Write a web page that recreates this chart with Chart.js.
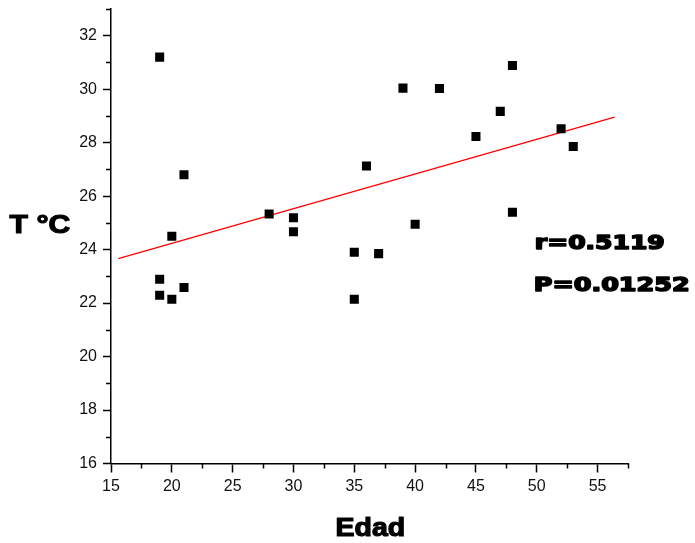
<!DOCTYPE html>
<html>
<head>
<meta charset="utf-8">
<script src="https://cdn.jsdelivr.net/npm/chart.js@4.4.0/dist/chart.umd.min.js"></script>
<style>
  html, body { margin: 0; padding: 0; background: #fff; }
  #wrap { width: 695px; height: 543px; }
</style>
</head>
<body>
<div id="wrap"><canvas id="myChart" width="695" height="543"></canvas></div>
<script>
// edad (x) and temperature (y) of each subject
var edad = [19, 21, 20, 28, 30, 30, 36, 48, 39, 42, 47, 45, 52, 53, 48, 40, 19, 19, 20, 21, 35, 37, 35];
var temp = [31.2, 26.8, 24.5, 25.33, 25.19, 24.67, 27.13, 30.89, 30.04, 30.03, 29.17, 28.23, 28.52, 27.86, 25.4, 24.95, 22.89, 22.29, 22.14, 22.58, 23.9, 23.85, 22.14];

// fitted line end points
var fitX = [15.6, 56.4];
var fitY = [23.66, 28.96];

var xMin = 15, xMax = 57.5, xStep = 5;
var yMin = 16, yMax = 33, yStep = 2;

var statR = "r=0.5119";
var statP = "P=0.01252";

var points = edad.map(function(v, i){ return {x: v, y: temp[i]}; });
var fit = fitX.map(function(v, i){ return {x: v, y: fitY[i]}; });

// heavy text, stretched to a given width
function heavyText(ctx, txt, family, left, base, size, width, stroke) {
    ctx.save();
    ctx.font = "bold " + size + "px " + family;
    ctx.textBaseline = "alphabetic";
    ctx.textAlign = "left";
    var w = ctx.measureText(txt).width;
    var sx = width / (w + stroke);
    ctx.translate(left + stroke / 2, base - stroke / 2);
    ctx.scale(sx, 1);
    ctx.fillStyle = "#000";
    ctx.strokeStyle = "#000";
    ctx.lineWidth = stroke;
    ctx.lineJoin = "round";
    ctx.fillText(txt, 0, 0);
    if (stroke > 0) ctx.strokeText(txt, 0, 0);
    ctx.restore();
}

var extras = {
    id: 'extras',
    afterDraw: function(chart) {
        var ctx = chart.ctx;
        var xs = chart.scales.x, ys = chart.scales.y;
        // minor ticks
        ctx.save();
        ctx.strokeStyle = "#000";
        ctx.lineWidth = 1.5;
        ctx.beginPath();
        for (var v = yMin + 1; v <= yMax; v += 2) {
            var py = Math.round(ys.getPixelForValue(v)) + 0.5;
            ctx.moveTo(ys.right - 5, py);
            ctx.lineTo(ys.right, py);
        }
        for (var u = xMin + 2.5; u <= xMax; u += 5) {
            var px = Math.round(xs.getPixelForValue(u)) + 0.5;
            ctx.moveTo(px, xs.top);
            ctx.lineTo(px, xs.top + 5);
        }
        ctx.stroke();
        ctx.restore();

        var arial = "'Liberation Sans', Arial, sans-serif";
        var dejavu = "'DejaVu Sans', sans-serif";
        heavyText(ctx, "T \u00B0C", arial, 9, 234, 26, 62, 1.2);
        heavyText(ctx, "Edad", arial, 335, 537, 26, 71, 1.2);
        heavyText(ctx, statR, dejavu, 534, 250, 19.5, 132, 1.6);
        heavyText(ctx, statP, dejavu, 533, 292, 19.5, 158, 1.6);
    }
};

new Chart("myChart", {
    type: "scatter",
    data: {
        datasets: [
            {data: points, backgroundColor: "#000", borderWidth: 0, pointStyle: "rect", pointRadius: 6.4, pointHoverRadius: 6.4},
            {data: fit, showLine: true, borderColor: "#ff0000", borderWidth: 1.3, pointRadius: 0, fill: false}
        ]
    },
    options: {
        responsive: false,
        animation: false,
        events: [],
        layout: {padding: {left: 0, right: 67, top: 9, bottom: 0}},
        plugins: {legend: {display: false}, tooltip: {enabled: false}},
        scales: {
            x: {
                type: "linear", min: xMin, max: xMax,
                afterFit: function(s){ s.height = 79.5; s.paddingLeft = 0; s.paddingRight = 0; },
                border: {color: "#000", width: 1.5},
                grid: {drawOnChartArea: false, tickLength: 9, tickColor: "#000", tickWidth: 1.5},
                ticks: {stepSize: xStep, includeBounds: false, color: "#111", padding: 4,
                        font: {family: "'Liberation Sans', Arial, sans-serif", size: 16}, maxRotation: 0}
            },
            y: {
                type: "linear", min: yMin, max: yMax,
                afterFit: function(s){ s.width = 111; s.paddingTop = 0; s.paddingBottom = 0; },
                border: {color: "#000", width: 1.5},
                grid: {drawOnChartArea: false, tickLength: 8, tickColor: "#000", tickWidth: 1.5},
                ticks: {stepSize: yStep, includeBounds: false, color: "#111", padding: 6,
                        font: {family: "'Liberation Sans', Arial, sans-serif", size: 16}}
            }
        }
    },
    plugins: [extras]
});
</script>
</body>
</html>
